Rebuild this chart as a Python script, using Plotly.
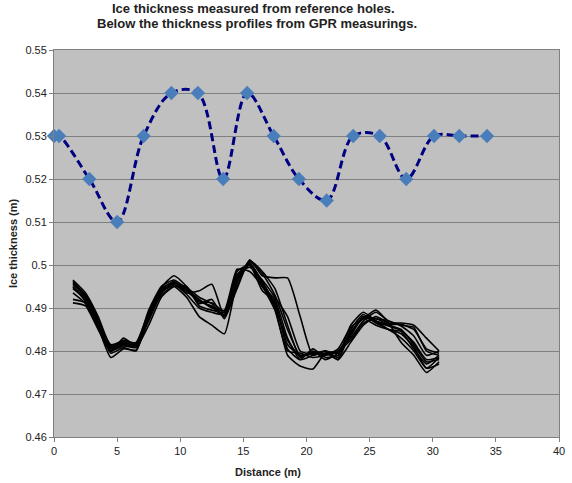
import plotly.graph_objects as go

# Reference holes (blue, dashed smoothed line)
ref_distance = [0, 0.4, 2.8, 5.0, 7.1, 9.3, 11.4, 13.4, 15.3, 17.4, 19.4, 21.6, 23.7, 25.8, 27.9, 30.1, 32.1, 34.3]
ref_thickness = [0.53, 0.53, 0.52, 0.51, 0.53, 0.54, 0.54, 0.52, 0.54, 0.53, 0.52, 0.515, 0.53, 0.53, 0.52, 0.53, 0.53, 0.53]

# GPR profiles (black lines), sampled on a common distance grid
gpr_distance = [1.5, 2.5, 3.5, 4.5, 5.5, 6.5, 7.5, 8.5, 9.5, 10.5, 11.5, 12.5, 13.5, 14.5, 15.5,
                16.5, 17.5, 18.5, 19.5, 20.5, 21.5, 22.5, 23.5, 24.5, 25.5, 26.5, 27.5, 28.5, 29.5, 30.5]

gpr_1 = [0.4955, 0.4925, 0.4865, 0.4805, 0.4815, 0.4810, 0.4885, 0.4945, 0.4960, 0.4940, 0.4915, 0.4905, 0.4885, 0.4975, 0.5005,
         0.4960, 0.4910, 0.4815, 0.4790, 0.4795, 0.4790, 0.4800, 0.4840, 0.4880, 0.4870, 0.4860, 0.4850, 0.4815, 0.4775, 0.4780]
gpr_2 = [0.4965, 0.4935, 0.4880, 0.4812, 0.4825, 0.4818, 0.4870, 0.4935, 0.4958, 0.4948, 0.4925, 0.4910, 0.4880, 0.4960, 0.5010,
         0.4985, 0.4945, 0.4860, 0.4785, 0.4800, 0.4780, 0.4795, 0.4830, 0.4870, 0.4890, 0.4870, 0.4860, 0.4855, 0.4800, 0.4790]
gpr_3 = [0.4912, 0.4905, 0.4850, 0.4800, 0.4812, 0.4808, 0.4860, 0.4925, 0.4950, 0.4950, 0.4905, 0.4895, 0.4890, 0.4985, 0.5000,
         0.4950, 0.4920, 0.4830, 0.4780, 0.4790, 0.4800, 0.4785, 0.4850, 0.4885, 0.4865, 0.4850, 0.4830, 0.4800, 0.4760, 0.4785]
gpr_4 = [0.4945, 0.4920, 0.4870, 0.4798, 0.4830, 0.4812, 0.4880, 0.4940, 0.4962, 0.4935, 0.4940, 0.4955, 0.4880, 0.4945, 0.5012,
         0.4975, 0.4970, 0.4970, 0.4880, 0.4790, 0.4800, 0.4780, 0.4820, 0.4860, 0.4880, 0.4865, 0.4865, 0.4860, 0.4830, 0.4800]
gpr_5 = [0.4935, 0.4910, 0.4855, 0.4785, 0.4805, 0.4802, 0.4875, 0.4930, 0.4950, 0.4925, 0.4880, 0.4860, 0.4840, 0.4960, 0.5005,
         0.4955, 0.4900, 0.4790, 0.4765, 0.4758, 0.4795, 0.4780, 0.4845, 0.4875, 0.4895, 0.4865, 0.4820, 0.4790, 0.4750, 0.4775]
gpr_6 = [0.4958, 0.4930, 0.4875, 0.4808, 0.4818, 0.4815, 0.4895, 0.4950, 0.4965, 0.4945, 0.4920, 0.4900, 0.4895, 0.4990, 0.4985,
         0.4950, 0.4895, 0.4800, 0.4795, 0.4785, 0.4790, 0.4805, 0.4855, 0.4875, 0.4860, 0.4850, 0.4845, 0.4805, 0.4770, 0.4790]
gpr_7 = [0.4962, 0.4928, 0.4868, 0.4815, 0.4822, 0.4820, 0.4890, 0.4948, 0.4975, 0.4950, 0.4910, 0.4920, 0.4875, 0.4950, 0.5008,
         0.4980, 0.4930, 0.4850, 0.4790, 0.4795, 0.4800, 0.4795, 0.4835, 0.4880, 0.4875, 0.4870, 0.4858, 0.4835, 0.4790, 0.4800]
gpr_8 = [0.4950, 0.4915, 0.4860, 0.4795, 0.4808, 0.4800, 0.4880, 0.4940, 0.4955, 0.4932, 0.4900, 0.4890, 0.4885, 0.4970, 0.5000,
         0.4940, 0.4915, 0.4805, 0.4780, 0.4805, 0.4785, 0.4790, 0.4860, 0.4890, 0.4870, 0.4850, 0.4840, 0.4810, 0.4760, 0.4770]
gpr_9 = [0.4920, 0.4912, 0.4862, 0.4802, 0.4815, 0.4812, 0.4882, 0.4938, 0.4952, 0.4940, 0.4915, 0.4912, 0.4892, 0.4978, 0.4995,
         0.4965, 0.4925, 0.4880, 0.4800, 0.4792, 0.4795, 0.4800, 0.4825, 0.4865, 0.4875, 0.4862, 0.4862, 0.4850, 0.4805, 0.4795]
gpr_10 = [0.4948, 0.4922, 0.4870, 0.4810, 0.4820, 0.4814, 0.4885, 0.4945, 0.4958, 0.4942, 0.4918, 0.4902, 0.4882, 0.4968, 0.5002,
          0.4962, 0.4905, 0.4825, 0.4788, 0.4798, 0.4792, 0.4798, 0.4842, 0.4878, 0.4868, 0.4858, 0.4848, 0.4820, 0.4780, 0.4785]

gpr_profiles = [gpr_1, gpr_2, gpr_3, gpr_4, gpr_5, gpr_6, gpr_7, gpr_8, gpr_9, gpr_10]

x_ticks = [0, 5, 10, 15, 20, 25, 30, 35, 40]
y_ticks = [0.46, 0.47, 0.48, 0.49, 0.50, 0.51, 0.52, 0.53, 0.54, 0.55]
y_tick_labels = ["0.46", "0.47", "0.48", "0.49", "0.5", "0.51", "0.52", "0.53", "0.54", "0.55"]

title_lines = ["Ice thickness measured from reference holes.",
               "Below the thickness profiles from GPR measurings."]

fig = go.Figure()

for prof in gpr_profiles:
    fig.add_trace(go.Scatter(
        x=gpr_distance, y=prof, mode="lines",
        line=dict(color="black", width=1.6, shape="spline", smoothing=0.5),
        showlegend=False, hoverinfo="skip"))

fig.add_trace(go.Scatter(
    x=ref_distance, y=ref_thickness, mode="lines+markers", cliponaxis=False,
    line=dict(color="#000080", width=3, dash="8px,4px", shape="spline", smoothing=1.0),
    marker=dict(symbol="diamond", size=11, color="#4A7EBB"),
    showlegend=False))

font_family = "Liberation Sans, Arial, sans-serif"
PLOT_L, PLOT_W, PLOT_B, PLOT_H = 54, 511, 437, 387

fig.update_layout(
    width=572, height=483,
    margin=dict(l=54, r=7, t=50, b=46),
    paper_bgcolor="white",
    plot_bgcolor="#C0C0C0",
    font=dict(family=font_family, size=11, color="#222222"),
    showlegend=False,
    xaxis=dict(
        range=[0, 40], tickvals=x_ticks, ticks="outside", ticklen=4, tickcolor="#808080",
        showgrid=False, zeroline=False, showline=True, linecolor="#808080", linewidth=1, mirror=True,
        tickfont=dict(size=11, color="#222222")),
    yaxis=dict(
        range=[0.46, 0.55], tickvals=y_ticks, ticktext=y_tick_labels, ticks="outside", ticklen=4,
        tickcolor="#808080", showgrid=True, gridcolor="#808080", gridwidth=1, zeroline=False,
        showline=True, linecolor="#808080", linewidth=1, mirror=True,
        tickfont=dict(size=11, color="#222222")),
    annotations=[
        dict(text="<b>" + title_lines[0] + "</b>",
             xref="paper", yref="paper", x=(256 - PLOT_L) / PLOT_W, y=(PLOT_B - 8) / PLOT_H,
             xanchor="center", yanchor="middle", showarrow=False,
             font=dict(family=font_family, size=13, color="#222222")),
        dict(text="<b>" + title_lines[1] + "</b>",
             xref="paper", yref="paper", x=(259 - PLOT_L) / PLOT_W, y=(PLOT_B - 23.5) / PLOT_H,
             xanchor="center", yanchor="middle", showarrow=False,
             font=dict(family=font_family, size=13, color="#222222")),
        dict(text="<b>Distance (m)</b>", xref="paper", yref="paper", x=(271 - PLOT_L) / PLOT_W, y=-0.07,
             xanchor="center", yanchor="top", showarrow=False, font=dict(size=11, color="#222222")),
        dict(text="<b>Ice thickness (m)</b>", xref="paper", yref="paper", x=-0.082, y=0.5,
             xanchor="center", yanchor="middle", textangle=-90, showarrow=False,
             font=dict(size=11, color="#222222")),
    ],
)

fig.write_html("out.html")
